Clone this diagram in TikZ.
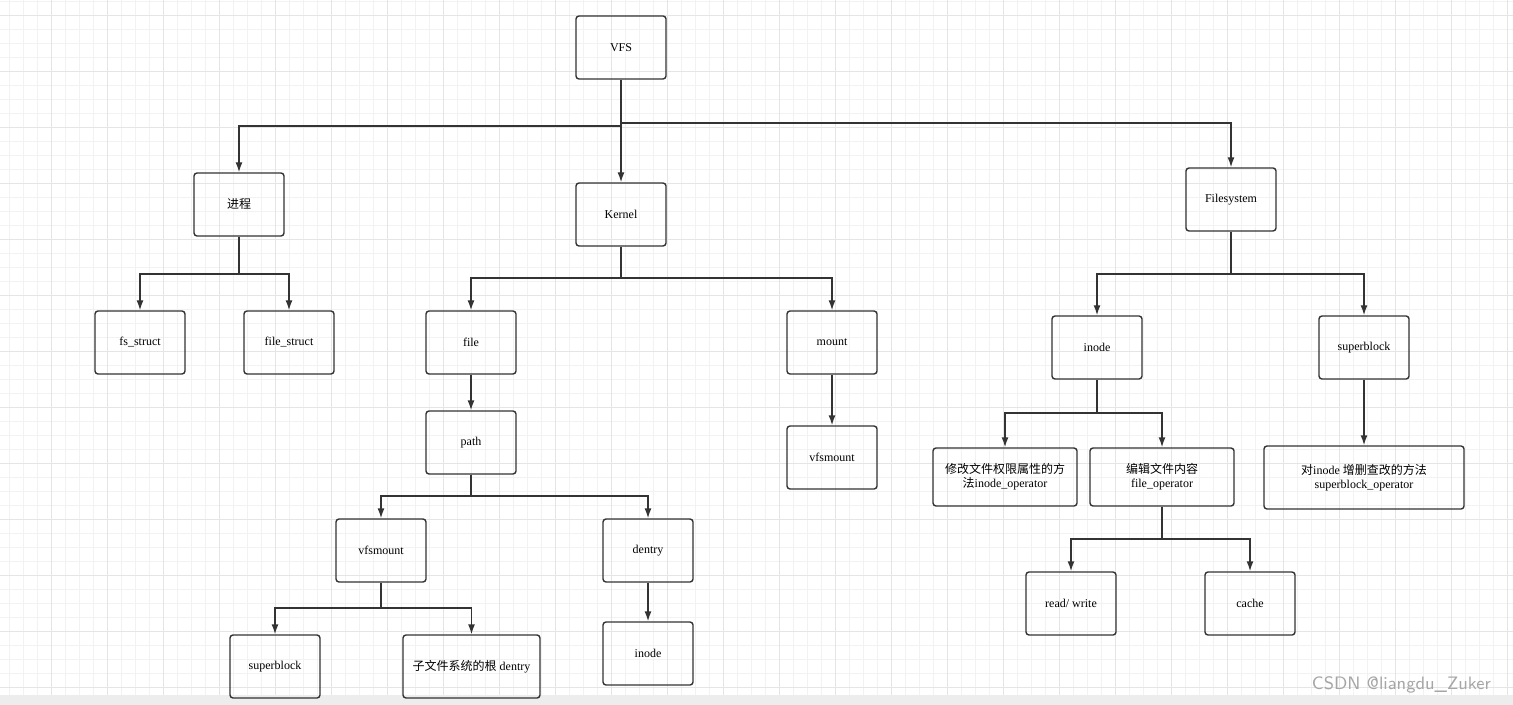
\documentclass[tikz,border=0pt]{standalone}
\usepackage{fontspec}
\setmainfont{Liberation Serif}
\newfontfamily\cjk{Noto Sans CJK SC}
\usetikzlibrary{arrows.meta}
\tikzset{
  box/.style={draw=black!80, line width=0.7pt, rounded corners=1.5pt, minimum width=45pt, minimum height=31.5pt, align=center, font=\fontsize{6}{7}\selectfont, inner sep=1pt},
  wide/.style={box, minimum width=#1, minimum height=29pt},
  link/.style={draw=black!80, line width=0.7pt, -{Latex[length=5pt,width=3.5pt]}}
}
\begin{document}
\begin{tikzpicture}[x=0.5pt,y=-0.5pt]
  \useasboundingbox (0,0) rectangle (1513,705);
  % Grid
  \foreach \gx in {9,23,...,1513} \draw[black!5, line width=0.3pt] (\gx,0) -- (\gx,695);
  \foreach \gy in {1,15,...,695} \draw[black!5, line width=0.3pt] (0,\gy) -- (1513,\gy);
  \foreach \gx in {51,107,...,1513} \draw[black!10, line width=0.4pt] (\gx,0) -- (\gx,695);
  \foreach \gy in {15,71,...,695} \draw[black!10, line width=0.4pt] (0,\gy) -- (1513,\gy);
  \fill[black!7] (0,695) rectangle (1513,705);

  % Nodes
  \node[box] (vfs) at (621,47.5) {VFS};
  \node[box] (proc) at (239,204.5) {\cjk 进程};
  \node[box] (kernel) at (621,214.5) {Kernel};
  \node[box] (fsys) at (1231,199.5) {Filesystem};
  \node[box] (fsstruct) at (140,342.5) {fs\_struct};
  \node[box] (filestruct) at (289,342.5) {file\_struct};
  \node[box] (file) at (471,342.5) {file};
  \node[box] (mount) at (832,342.5) {mount};
  \node[box] (inode) at (1097,347.5) {inode};
  \node[box] (sblock) at (1364,347.5) {superblock};
  \node[box] (path) at (471,442.5) {path};
  \node[box] (vfsmnt) at (832,457.5) {vfsmount};
  \node[wide=72pt] (inodeop) at (1005,477) {{\cjk 修改文件权限属性的方}\\{\cjk 法}inode\_operator};
  \node[wide=72pt] (fileop) at (1162,477) {{\cjk 编辑文件内容}\\file\_operator};
  \node[box, minimum width=100pt] (sbop) at (1364,477.5) {{\cjk 对}inode {\cjk 增删查改的方法}\\superblock\_operator};
  \node[box] (pvfsmnt) at (381,550.5) {vfsmount};
  \node[box] (dentry) at (648,550.5) {dentry};
  \node[box] (rw) at (1071,603.5) {read/ write};
  \node[box] (cache) at (1250,603.5) {cache};
  \node[box] (psblock) at (275,666.5) {superblock};
  \node[box, minimum width=68.5pt] (rootd) at (471.5,666.5) {{\cjk 子文件系统的根} dentry};
  \node[box] (dinode) at (648,653.5) {inode};

  % Connectors
  \draw[link] (vfs.south) |- (proc.north |- 0,126) -- (proc.north);
  \draw[link] (vfs.south) -- (kernel.north);
  \draw[link] (vfs.south) |- (fsys.north |- 0,123) -- (fsys.north);
  \foreach \c in {fsstruct,filestruct} \draw[link] (proc.south) |- (\c.north |- 0,274) -- (\c.north);
  \foreach \c in {file,mount} \draw[link] (kernel.south) |- (\c.north |- 0,278) -- (\c.north);
  \foreach \c in {inode,sblock} \draw[link] (fsys.south) |- (\c.north |- 0,274) -- (\c.north);
  \draw[link] (file) -- (path);
  \draw[link] (mount) -- (vfsmnt);
  \draw[link] (sblock) -- (sbop);
  \foreach \c in {inodeop,fileop} \draw[link] (inode.south) |- (\c.north |- 0,413) -- (\c.north);
  \foreach \c in {pvfsmnt,dentry} \draw[link] (path.south) |- (\c.north |- 0,496) -- (\c.north);
  \foreach \c in {psblock,rootd} \draw[link] (pvfsmnt.south) |- (\c.north |- 0,608) -- (\c.north);
  \foreach \c in {rw,cache} \draw[link] (fileop.south) |- (\c.north |- 0,539) -- (\c.north);
  \draw[link] (dentry) -- (dinode);

  % Watermark
  \node[text=black!35, font=\sffamily\fontsize{9}{10}\selectfont, anchor=east] (mark) at (1498,685) {CSDN @liangdu\_Zuker};
\end{tikzpicture}
\end{document}
